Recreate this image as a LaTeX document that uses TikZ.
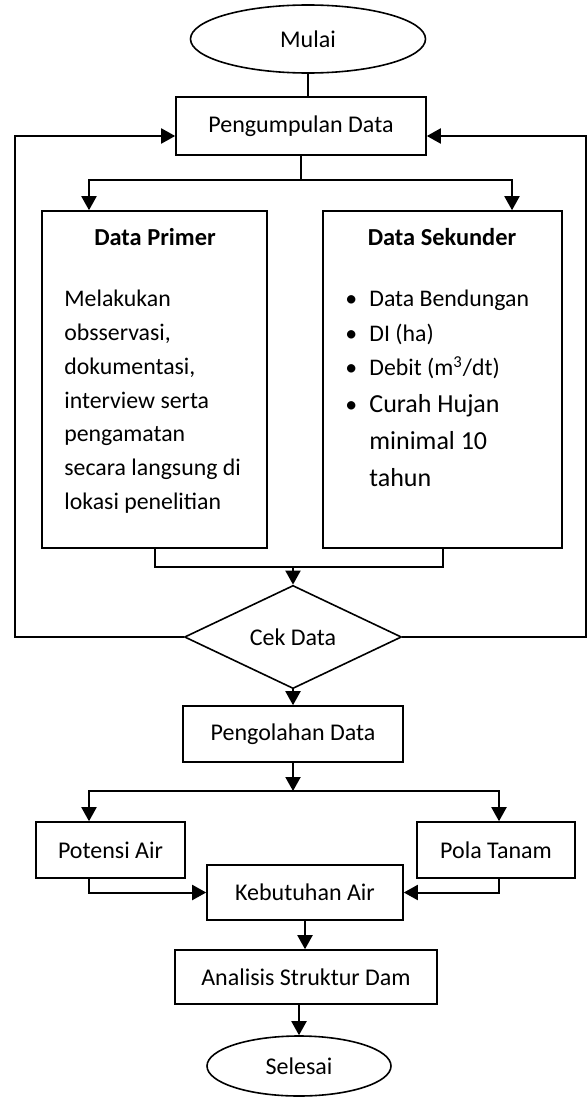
\documentclass[tikz,border=0pt]{standalone}
\usepackage{fontspec}
\setmainfont{Carlito}
\usepackage{tikz}
\usetikzlibrary{positioning, arrows.meta, shapes.geometric}
\tikzset{
  dasar/.style={draw, line width=0.8pt, align=center, inner sep=2pt, font=\fontsize{12}{14}\selectfont},
  proses/.style={dasar, rectangle},
  terminal/.style={dasar, ellipse},
  keputusan/.style={dasar, diamond, inner sep=0pt},
  judul/.style={inner sep=0pt, font=\fontsize{12.2}{14}\selectfont\bfseries},
  isi/.style={inner sep=0pt, align=left, anchor=north west, font=\fontsize{11.9}{16.85}\selectfont},
  alir/.style={-{Triangle[length=7pt, width=7.5pt]}, line width=1pt},
  garis/.style={line width=1pt},
}
\newcommand{\butir}{\makebox[12pt][l]{\textbullet}}

\begin{document}
\begin{tikzpicture}[x=0.5pt, y=-0.5pt]
  \useasboundingbox (0,0) rectangle (587,1097);
  \node[terminal, minimum width=117.5pt, minimum height=34pt] (mulai) at (308,39) {Mulai};
  \node[proses, minimum width=125pt, minimum height=29pt] (kumpul) at (301,126) {Pengumpulan Data};
  \node[proses, minimum width=112.5pt, minimum height=168.5pt] (primer) at (154.5,379.5) {};
  \node[proses, minimum width=119.5pt, minimum height=168.5pt] (sekunder) at (442.5,379.5) {};
  \node[judul] (jprimer) at (155,237) {Data Primer};
  \node[judul] (jsekunder) at (442,237) {Data Sekunder};
  \node[isi] (tprimer) at (64,290) {Melakukan\\obsservasi,\\dokumentasi,\\interview serta\\pengamatan\\secara langsung di\\lokasi penelitian};
  \node[isi, font=\fontsize{11.9}{17.2}\selectfont] (tsekunder) at (345,290) {\butir Data Bendungan\\\butir DI (ha)\\\butir Debit (m\textsuperscript{3}/dt)\\[1.3pt]
    \butir{\fontsize{13}{18}\selectfont Curah Hujan}\\[1.2pt]\hspace*{12pt}{\fontsize{13}{18}\selectfont minimal 10}\\[1.2pt]\hspace*{12pt}{\fontsize{13}{18}\selectfont tahun}};
  \node[keputusan, minimum width=108.5pt, minimum height=38.5pt] (cek) at (293,637) {Cek Data};
  \node[proses, minimum width=110pt, minimum height=28pt] (olah) at (293,734) {Pengolahan Data};
  \node[proses, minimum width=74.5pt, minimum height=28pt] (potensi) at (110.5,850) {Potensi Air};
  \node[proses, minimum width=79pt, minimum height=28pt] (pola) at (496,850) {Pola Tanam};
  \node[proses, minimum width=98pt, minimum height=27.5pt] (butuh) at (305,892.5) {Kebutuhan Air};
  \node[proses, minimum width=131pt, minimum height=27pt] (analisis) at (306,977) {Analisis Struktur Dam};
  \node[terminal, minimum width=92pt, minimum height=30pt] (selesai) at (299,1066) {Selesai};
  % titik bantu
  \coordinate (bagi) at (301,180);
  \coordinate (gabung) at (293,567);
  \coordinate (bagi2) at (293,791);
  \coordinate (lkiri) at (15,637);
  \coordinate (lkanan) at (585.5,637);
  % penghubung
  \draw[garis] (mulai.south) -- (mulai.south |- kumpul.north);
  \draw[garis] (kumpul.south) -- (bagi);
  \draw[alir] (bagi) -| ([xshift=-32.75pt]primer.north);
  \draw[alir] (bagi) -| ([xshift=34.75pt]sekunder.north);
  \draw[garis] (primer.south) |- (gabung);
  \draw[garis] (sekunder.south) |- (gabung);
  \draw[alir] (gabung) -- (cek.north);
  \draw[alir] (cek.west) -- (lkiri) |- ([yshift=-5pt]kumpul.west);
  \draw[alir] (cek.east) -- (lkanan) |- ([yshift=-5pt]kumpul.east);
  \draw[alir] (cek.south) -- (olah.north);
  \draw[alir] (olah.south) -- (bagi2);
  \draw[alir] (bagi2) -| ([xshift=-10.75pt]potensi.north);
  \draw[alir] (bagi2) -| ([xshift=1.5pt]pola.north);
  \draw[alir] ([xshift=-10.75pt]potensi.south) |- (butuh.west);
  \draw[alir] ([xshift=1.5pt]pola.south) |- (butuh.east);
  \draw[alir] (butuh.south) -- (butuh.south |- analisis.north);
  \draw[alir] (analisis.south -| selesai.north) -- (selesai.north);
\end{tikzpicture}
\end{document}
